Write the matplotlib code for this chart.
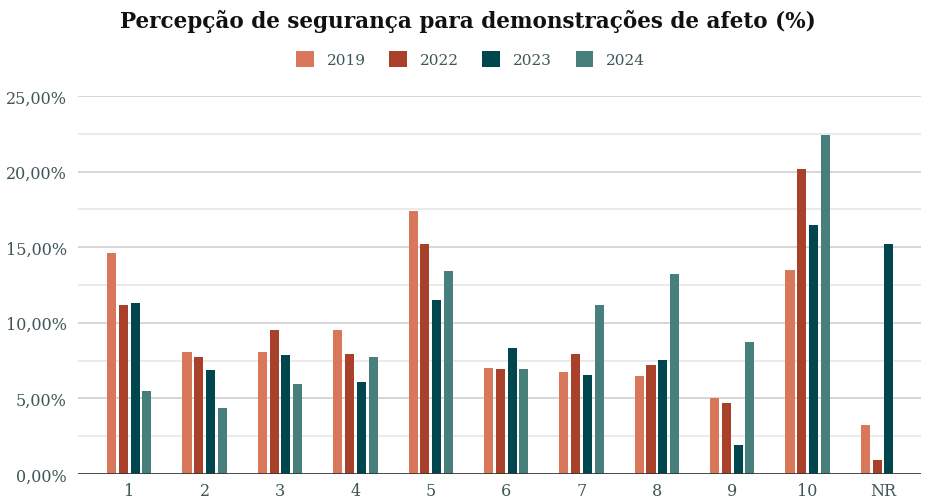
import matplotlib.pyplot as plt
import numpy as np
from matplotlib.ticker import FuncFormatter, MultipleLocator

# Dados (percentual)
categorias = ["1", "2", "3", "4", "5", "6", "7", "8", "9", "10", "NR"]
anos = ["2019", "2022", "2023", "2024"]
v2019 = [14.6, 8.05, 8.05, 9.5, 17.4, 7.03, 6.77, 6.46, 5.0, 13.51, 3.24]
v2022 = [11.2, 7.77, 9.53, 7.96, 15.2, 6.94, 7.94, 7.23, 4.7, 20.17, 0.95]
v2023 = [11.3, 6.86, 7.85, 6.08, 11.49, 8.31, 6.55, 7.56, 1.94, 16.47, 15.19]
v2024 = [5.5, 4.39, 5.97, 7.77, 13.43, 6.94, 11.18, 13.25, 8.71, 22.44, 0.0]
series = [v2019, v2022, v2023, v2024]
cores = ["#D9775B", "#A8402A", "#00464F", "#477F7C"]

cor_texto = "#3f5656"
fonte = "DejaVu Serif"

fig = plt.figure(figsize=(9.3, 5.02), dpi=100)
ax = fig.add_axes([0.0839, 0.0538, 0.9061, 0.753])

x = np.arange(len(categorias))
passo = 0.156
largura = 0.12
for i, (vals, cor, ano) in enumerate(zip(series, cores, anos)):
    desloc = (i - 1.5) * passo
    ax.bar(x + desloc, vals, width=largura, color=cor, label=ano, zorder=3)

ax.set_xlim(-0.68, 10.5)
ax.set_ylim(0, 25)
ax.yaxis.set_major_locator(MultipleLocator(5))
ax.yaxis.set_minor_locator(MultipleLocator(2.5))
ax.yaxis.set_major_formatter(FuncFormatter(lambda v, p: f"{v:.2f}%".replace(".", ",")))
ax.grid(axis="y", which="major", color="#cfcfcf", linewidth=1.2, zorder=0)
ax.grid(axis="y", which="minor", color="#e6e6e6", linewidth=1.2, zorder=0)
ax.axhline(0, color="#333333", linewidth=1.2, zorder=4)

ax.set_xticks(x)
ax.set_xticklabels(categorias)
ax.tick_params(axis="both", which="both", length=0, labelsize=11.5, labelcolor=cor_texto, pad=6)
ax.tick_params(axis="y", pad=8)
for lbl in ax.get_xticklabels() + ax.get_yticklabels():
    lbl.set_fontfamily(fonte)
for s in ax.spines.values():
    s.set_visible(False)

fig.text(0.503, 0.957, "Percepção de segurança para demonstrações de afeto (%)",
         ha="center", va="center", fontsize=15.5, fontweight="bold",
         family=fonte, color="#111111")

leg = fig.legend(loc="center", bbox_to_anchor=(0.506, 0.88), ncol=4, frameon=False,
                 prop={"family": fonte, "size": 11}, handlelength=1.15,
                 handleheight=1.15, columnspacing=1.55, handletextpad=0.85)
for t in leg.get_texts():
    t.set_color(cor_texto)

fig.savefig("out.png", dpi=100)
